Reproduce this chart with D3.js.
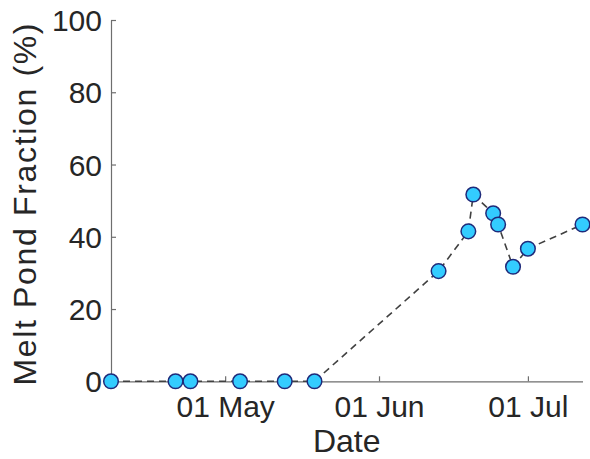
<!DOCTYPE html>
<html>
<head>
<meta charset="utf-8">
<script src="https://cdn.jsdelivr.net/npm/d3@7"></script>
<style>
html,body{margin:0;padding:0;background:#fff;}
svg{display:block;font-family:"Liberation Sans",Arial,Helvetica,sans-serif;}
</style>
</head>
<body>
<svg id="chart" width="590" height="459"></svg>
<script>
const dates = ["2000-04-08","2000-04-21","2000-04-24","2000-05-04","2000-05-13","2000-05-19",
               "2000-06-13","2000-06-19","2000-06-20","2000-06-24","2000-06-25","2000-06-28","2000-07-01","2000-07-12"];
const meltPond = [0,0,0,0,0,0,30.5,41.5,51.7,46.5,43.4,31.7,36.7,43.4];
const yTicks = [0,20,40,60,80,100];
const xTickDates = ["2000-05-01","2000-06-01","2000-07-01"];
const xTickLabels = ["01 May","01 Jun","01 Jul"];
const xDomain = ["2000-04-08","2000-07-12"];
const yLabel = "Melt Pond Fraction (%)";
const xLabel = "Date";

const parse = d3.utcParse("%Y-%m-%d");
const data = dates.map((d,i)=>({date:parse(d), v:meltPond[i]}));

const svg = d3.select("#chart");
const mLeft = 111, mRight = 582.5, mTop = 20, mBottom = 381.3;
const x = d3.scaleUtc().domain(xDomain.map(parse)).range([mLeft,mRight]);
const y = d3.scaleLinear().domain([0,100]).range([mBottom,mTop]);
const axisColor = "#6e6e6e";
const textColor = "#262626";

// y axis
const yAxis = svg.append("g").attr("transform",`translate(${mLeft},0)`)
  .call(d3.axisLeft(y).tickValues(yTicks).tickSizeInner(-5).tickSizeOuter(0).tickPadding(9));
yAxis.select(".domain").attr("stroke",axisColor).attr("stroke-width",1.2);
yAxis.selectAll(".tick line").attr("stroke",axisColor).attr("stroke-width",1.2);
yAxis.selectAll(".tick text").attr("fill",textColor).attr("font-size",30).attr("dy","0.35em");

// x axis
const xAxis = svg.append("g").attr("transform",`translate(0,${mBottom})`)
  .call(d3.axisBottom(x).tickValues(xTickDates.map(parse))
    .tickFormat((d,i)=>xTickLabels[i]).tickSizeInner(-5).tickSizeOuter(0).tickPadding(14));
xAxis.select(".domain").attr("stroke",axisColor).attr("stroke-width",1.2);
xAxis.selectAll(".tick line").attr("stroke",axisColor).attr("stroke-width",1.2);
xAxis.selectAll(".tick text").attr("fill",textColor).attr("font-size",30).attr("dy","0.71em");

// line
const line = d3.line().x(d=>x(d.date)).y(d=>y(d.v));
svg.append("path").datum(data).attr("d",line)
  .attr("fill","none").attr("stroke","#404040").attr("stroke-width",1.6)
  .attr("stroke-dasharray","7,5");

// markers
svg.append("g").selectAll("circle").data(data).join("circle")
  .attr("cx",d=>x(d.date)).attr("cy",d=>y(d.v)).attr("r",7.3)
  .attr("fill","#33ccff").attr("stroke","#1f2a7a").attr("stroke-width",1.5);

// labels
svg.append("text").attr("x",(mLeft+mRight)/2).attr("y",451.5)
  .attr("text-anchor","middle").attr("font-size",32).attr("fill",textColor).text(xLabel);
svg.append("text").attr("transform",`translate(36,204.5) rotate(-90)`)
  .attr("text-anchor","middle").attr("font-size",32).attr("fill",textColor)
  .attr("textLength",362).attr("lengthAdjust","spacing").text(yLabel);
</script>
</body>
</html>
